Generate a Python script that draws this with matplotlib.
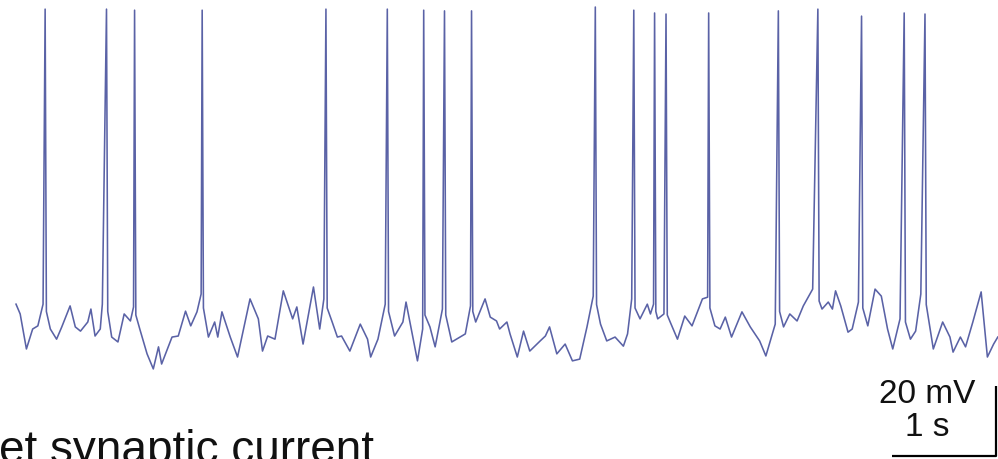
import numpy as np
import matplotlib.pyplot as plt

plt.rcParams['font.family'] = ['Liberation Sans', 'DejaVu Sans']

# Subthreshold membrane potential (time in s, voltage in mV)
t_sub = [0.00, 0.04, 0.10, 0.16, 0.21, 0.26, 0.33, 0.39, 0.44, 0.52,
         0.57, 0.62, 0.69, 0.72, 0.76, 0.81, 0.83, 0.92, 0.98, 1.04,
         1.10, 1.13, 1.19, 1.26, 1.32, 1.37, 1.40, 1.43, 1.50, 1.56,
         1.63, 1.68, 1.74, 1.78, 1.85, 1.91, 1.94, 1.98, 2.06, 2.13,
         2.25, 2.33, 2.37, 2.42, 2.49, 2.57, 2.66, 2.70, 2.76, 2.86,
         2.92, 2.96, 3.04, 3.09, 3.13, 3.21, 3.31, 3.38, 3.41, 3.48,
         3.55, 3.64, 3.72, 3.75, 3.82, 3.86, 3.91, 3.98, 4.03, 4.10,
         4.19, 4.27, 4.32, 4.37, 4.42, 4.46, 4.51, 4.56, 4.62, 4.65,
         4.72, 4.75, 4.82, 4.88, 4.94, 5.04, 5.09, 5.13, 5.20, 5.28,
         5.35, 5.42, 5.49, 5.55, 5.62, 5.68, 5.76, 5.84, 5.88, 5.92,
         6.00, 6.07, 6.10, 6.13, 6.17, 6.23, 6.29, 6.36, 6.43, 6.50,
         6.60, 6.65, 6.72, 6.77, 6.82, 6.88, 6.98, 7.06, 7.15, 7.21,
         7.30, 7.38, 7.44, 7.51, 7.57, 7.66, 7.75, 7.81, 7.85, 7.88,
         7.93, 8.00, 8.04, 8.10, 8.19, 8.26, 8.32, 8.38, 8.43, 8.50,
         8.60, 8.65, 8.70, 8.82, 8.91, 8.98, 9.01, 9.08, 9.13, 9.20,
         9.28, 9.34, 9.40, 9.44]
v_sub = [-52.9, -55.7, -65.7, -60.0, -59.1, -52.9, -60.0, -62.9, -59.4, -53.4,
         -59.4, -60.6, -58.0, -54.3, -62.0, -60.0, -52.9, -62.3, -63.7, -55.7,
         -57.7, -53.7, -60.0, -67.1, -71.4, -65.1, -70.0, -67.7, -62.3, -62.0,
         -54.9, -59.1, -55.1, -50.0, -62.3, -58.0, -62.3, -55.1, -62.3, -68.0,
         -51.4, -57.1, -66.3, -62.0, -62.9, -49.1, -57.1, -53.7, -64.3, -48.0,
         -60.0, -51.4, -58.0, -62.3, -62.0, -66.3, -58.6, -62.9, -68.0, -62.9,
         -52.9, -62.0, -58.0, -52.3, -62.9, -69.1, -60.0, -59.4, -65.1, -54.3,
         -63.7, -62.3, -61.4, -53.4, -58.0, -55.1, -51.4, -56.6, -57.7, -60.0,
         -58.0, -61.4, -68.0, -60.6, -66.3, -63.4, -62.0, -59.4, -67.1, -64.3,
         -69.1, -68.6, -59.4, -50.6, -58.6, -63.4, -62.3, -64.9, -61.4, -51.4,
         -57.1, -52.9, -55.7, -52.9, -57.1, -55.7, -58.0, -62.9, -56.3, -59.1,
         -51.4, -50.9, -59.1, -60.0, -56.6, -62.3, -55.1, -59.4, -63.4, -67.7,
         -58.6, -59.4, -55.7, -57.7, -53.4, -48.6, -54.3, -52.3, -54.3, -49.1,
         -53.4, -60.9, -60.0, -52.3, -59.1, -48.6, -50.6, -60.0, -65.7, -57.1,
         -62.9, -60.6, -50.0, -65.7, -58.0, -62.3, -66.6, -62.3, -65.1, -58.0,
         -49.4, -68.0, -64.3, -62.3]

# Action potentials: time of peak (s), peak voltage (mV), voltage right after (mV)
spike_t = [0.28, 0.87, 1.14, 1.79, 2.98, 3.57, 3.92, 4.12, 4.38, 5.57,
           5.94, 6.14, 6.25, 6.66, 7.33, 7.71, 8.13, 8.54, 8.74]
spike_peak = [31.4, 31.4, 31.1, 31.1, 31.4, 31.4, 31.1, 30.9, 30.9, 32.0,
              31.1, 30.3, 30.0, 30.3, 30.9, 31.4, 29.4, 30.3, 30.0]
spike_after = [-55.0, -55.0, -56.0, -54.0, -54.0, -55.0, -56.0, -56.0, -55.0, -53.0,
               -54.0, -55.0, -56.0, -54.0, -55.0, -52.0, -54.0, -58.0, -53.0]

# merge spikes into the trace
t_all = list(t_sub) + list(spike_t) + [s + 0.012 for s in spike_t]
v_all = list(v_sub) + list(spike_peak) + list(spike_after)
order = np.argsort(t_all, kind='stable')
t_all = np.array(t_all)[order]
v_all = np.array(v_all)[order]

fig = plt.figure(figsize=(9.98, 4.60), dpi=100)
ax = fig.add_axes([0, 0, 1, 1])
ax.plot(t_all, v_all, color='#5a62a6', lw=1.15, solid_joinstyle='round')

# scale bar: 20 mV, 1 s
bar_x, bar_y = 9.42, -96.3
ax.plot([bar_x - 1.0, bar_x, bar_x], [bar_y, bar_y, bar_y + 20],
        color='black', lw=1.6, solid_capstyle='butt')
ax.text(8.76, -80.8, '20 mV', ha='center', va='baseline', fontsize=24, color='#111111')
ax.text(8.76, -90.3, '1 s', ha='center', va='baseline', fontsize=24, color='#111111')

ax.text(-0.16, -97.9, 'et synaptic current', ha='left', va='baseline',
        fontsize=33, color='#111111')

ax.set_xlim(-0.154, 9.442)
ax.set_ylim(-97.14, 34.29)
ax.axis('off')

fig.savefig('out.png', dpi=100)
